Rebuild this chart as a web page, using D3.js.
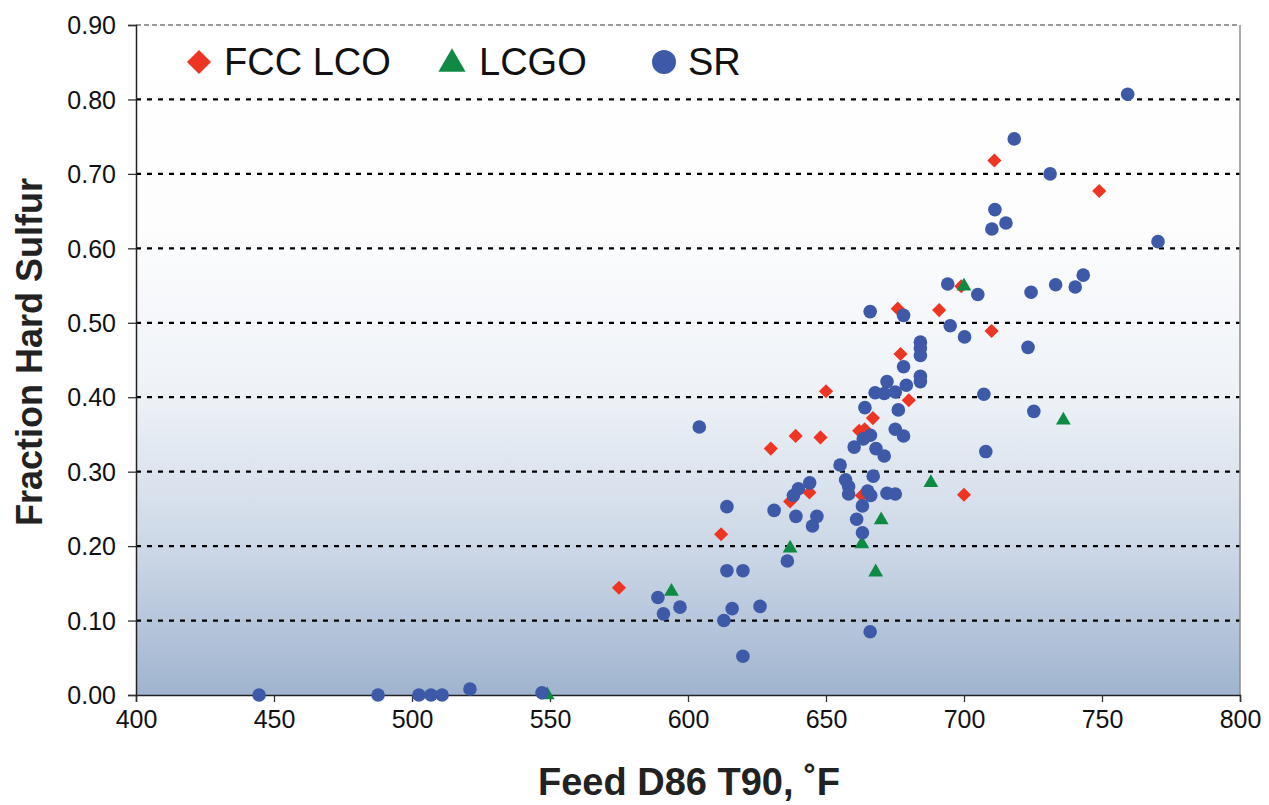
<!DOCTYPE html>
<html>
<head>
<meta charset="utf-8">
<title>Fraction Hard Sulfur</title>
<script src="https://d3js.org/d3.v7.min.js"></script>
<style>
  body { margin: 0; background: #fff; }
  text { font-family: "Liberation Sans", Arial, sans-serif; }
</style>
</head>
<body>
<div id="chart"></div>
<script>
// Feed D86 T90 (°F) vs fraction hard sulfur
const fccX = [575, 612, 630, 639, 648, 650, 637, 644, 662, 664, 667, 663, 676, 677, 680, 691, 699, 700, 710, 711, 749];
const fccY = [0.144, 0.216, 0.331, 0.348, 0.346, 0.408, 0.260, 0.272, 0.355, 0.357, 0.372, 0.268, 0.519, 0.458, 0.396, 0.517, 0.549, 0.269, 0.489, 0.718, 0.677];

const lcgoX = [549, 594, 637, 663, 668, 670, 688, 700, 736];
const lcgoY = [0.0, 0.139, 0.197, 0.203, 0.165, 0.235, 0.285, 0.549, 0.369];

const srX = [444.6, 487.7, 502.5, 506.9, 510.9, 521, 547.1, 604.1, 614.1, 631.2, 614.1, 619.9, 589.1, 591.1, 597.1,
  613, 616, 626.1, 619.9, 636, 638.2, 640, 644.1, 639.1, 645.1, 646.7, 655.1, 657.1, 658.2, 658.2, 660.2, 661.1,
  663.2, 663.2, 663.5, 664.1, 665.1, 666.2, 666.1, 666, 666, 667.1, 668.1, 667.8, 671.1, 671.1, 672.1, 672.1,
  675.1, 675.1, 675.1, 676.2, 678.1, 678.1, 678.1, 679.1, 684.2, 684.2, 684.2, 684.2, 684.2, 694.1, 695, 700.2,
  705, 707.2, 707.9, 710.1, 711.2, 715.2, 718.2, 723.2, 724.3, 725.3, 731.2, 733.2, 740.3, 743.2, 759.3, 770.3];
const srY = [0, 0, 0, 0, 0, 0.008, 0.003, 0.360, 0.253, 0.248, 0.167, 0.167, 0.131, 0.109, 0.118,
  0.100, 0.116, 0.119, 0.052, 0.180, 0.268, 0.277, 0.285, 0.240, 0.227, 0.240, 0.309, 0.289, 0.280, 0.270, 0.333, 0.236,
  0.254, 0.218, 0.344, 0.386, 0.274, 0.268, 0.349, 0.085, 0.515, 0.294, 0.331, 0.406, 0.405, 0.321, 0.271, 0.421,
  0.407, 0.270, 0.357, 0.383, 0.348, 0.441, 0.510, 0.416, 0.474, 0.466, 0.456, 0.428, 0.421, 0.552, 0.496, 0.481,
  0.538, 0.404, 0.327, 0.626, 0.652, 0.634, 0.747, 0.467, 0.541, 0.381, 0.700, 0.551, 0.548, 0.564, 0.807, 0.609];

const xTicks = [400, 450, 500, 550, 600, 650, 700, 750, 800];
const yTicks = [0, 0.1, 0.2, 0.3, 0.4, 0.5, 0.6, 0.7, 0.8, 0.9];

const W = 1269, H = 805;
const margin = { top: 25, right: 29, bottom: 110, left: 136 };
const width = W - margin.left - margin.right;
const height = H - margin.top - margin.bottom;

const svg = d3.select("#chart").append("svg")
  .attr("width", W).attr("height", H);

const defs = svg.append("defs");
const grad = defs.append("linearGradient")
  .attr("id", "bg").attr("x1", 0).attr("y1", 0).attr("x2", 0).attr("y2", 1);
grad.append("stop").attr("offset", "0%").attr("stop-color", "#ffffff");
grad.append("stop").attr("offset", "30%").attr("stop-color", "#fdfdfe");
grad.append("stop").attr("offset", "55%").attr("stop-color", "#eef2f7");
grad.append("stop").attr("offset", "80%").attr("stop-color", "#c9d5e5");
grad.append("stop").attr("offset", "100%").attr("stop-color", "#a0b4cf");

const g = svg.append("g").attr("transform", `translate(${margin.left},${margin.top})`);

const x = d3.scaleLinear().domain([400, 800]).range([0, width]);
const y = d3.scaleLinear().domain([0, 0.9]).range([height, 0]);

g.append("rect").attr("width", width).attr("height", height).attr("fill", "url(#bg)");

// gridlines
g.selectAll(".grid").data(yTicks.filter(d => d > 0 && d < 0.9)).join("line")
  .attr("x1", 0).attr("x2", width)
  .attr("y1", d => y(d)).attr("y2", d => y(d))
  .attr("stroke", "#000").attr("stroke-width", 2.2).attr("stroke-dasharray", "5,6");

// top and right frame in grey
g.append("line").attr("x1", 0).attr("x2", width).attr("y1", y(0.9)).attr("y2", y(0.9))
  .attr("stroke", "#9a9a9a").attr("stroke-width", 2).attr("stroke-dasharray", "5,3");
g.append("line").attr("x1", width).attr("x2", width).attr("y1", 0).attr("y2", height)
  .attr("stroke", "#8c8c8c").attr("stroke-width", 1.5);

// axes
const xAxis = g.append("g").attr("transform", `translate(0,${height})`)
  .call(d3.axisBottom(x).tickValues(xTicks).tickSize(7).tickPadding(10).tickFormat(d3.format("d")));
const yAxis = g.append("g")
  .call(d3.axisLeft(y).tickValues(yTicks).tickSize(8).tickPadding(14).tickFormat(d3.format(".2f")));
[xAxis, yAxis].forEach(a => {
  a.select(".domain").attr("stroke", "#222").attr("stroke-width", 1.5);
  a.selectAll(".tick line").attr("stroke", "#333").attr("stroke-width", 1.3);
  a.selectAll("text").attr("font-size", 25).attr("fill", "#111")
    .style("font-family", "'Liberation Sans', Arial, sans-serif");
});
yAxis.selectAll("text").attr("dy", "0.35em").attr("x", -20);
xAxis.selectAll("text").attr("dy", "0.85em").attr("y", 12);

// markers
const colors = { fcc: "#ee3524", lcgo: "#0f8a45", sr: "#3d59a8" };
const diamond = d3.symbol().type(d3.symbolSquare).size(100);
const tri = d3.symbol().type(d3.symbolTriangle).size(95);

g.selectAll(".fcc").data(d3.range(fccX.length)).join("path")
  .attr("d", diamond)
  .attr("transform", i => `translate(${x(fccX[i])},${y(fccY[i])}) rotate(45)`)
  .attr("fill", colors.fcc);

g.selectAll(".lcgo").data(d3.range(lcgoX.length)).join("path")
  .attr("d", tri)
  .attr("transform", i => `translate(${x(lcgoX[i])},${y(lcgoY[i])})`)
  .attr("fill", colors.lcgo);

g.selectAll(".sr").data(d3.range(srX.length)).join("circle")
  .attr("cx", i => x(srX[i])).attr("cy", i => y(srY[i])).attr("r", 6.8)
  .attr("fill", colors.sr);

// legend
const legend = svg.append("g");
const legItems = [
  { name: "FCC LCO", type: "fcc", mx: 199, tx: 224 },
  { name: "LCGO", type: "lcgo", mx: 452, tx: 479 },
  { name: "SR", type: "sr", mx: 664, tx: 688 }
];
legItems.forEach(it => {
  if (it.type === "fcc") {
    legend.append("path").attr("d", d3.symbol().type(d3.symbolSquare).size(290))
      .attr("transform", `translate(${it.mx},62) rotate(45)`).attr("fill", colors.fcc);
  } else if (it.type === "lcgo") {
    legend.append("path").attr("d", d3.symbol().type(d3.symbolTriangle).size(320))
      .attr("transform", `translate(${it.mx},64)`).attr("fill", colors.lcgo);
  } else {
    legend.append("circle").attr("cx", it.mx).attr("cy", 62).attr("r", 12).attr("fill", colors.sr);
  }
  legend.append("text").attr("x", it.tx).attr("y", 75)
    .attr("font-size", 38).attr("fill", "#111").text(it.name);
});

// axis titles
svg.append("text")
  .attr("transform", `translate(42,${margin.top + height / 2 - 8}) rotate(-90)`)
  .attr("text-anchor", "middle").attr("font-size", 36).attr("font-weight", "bold")
  .attr("fill", "#222").text("Fraction Hard Sulfur");
svg.append("text")
  .attr("x", 689).attr("y", 795)
  .attr("text-anchor", "middle").attr("font-size", 38).attr("font-weight", "bold")
  .attr("fill", "#222").text("Feed D86 T90, ˚F");
</script>
</body>
</html>
